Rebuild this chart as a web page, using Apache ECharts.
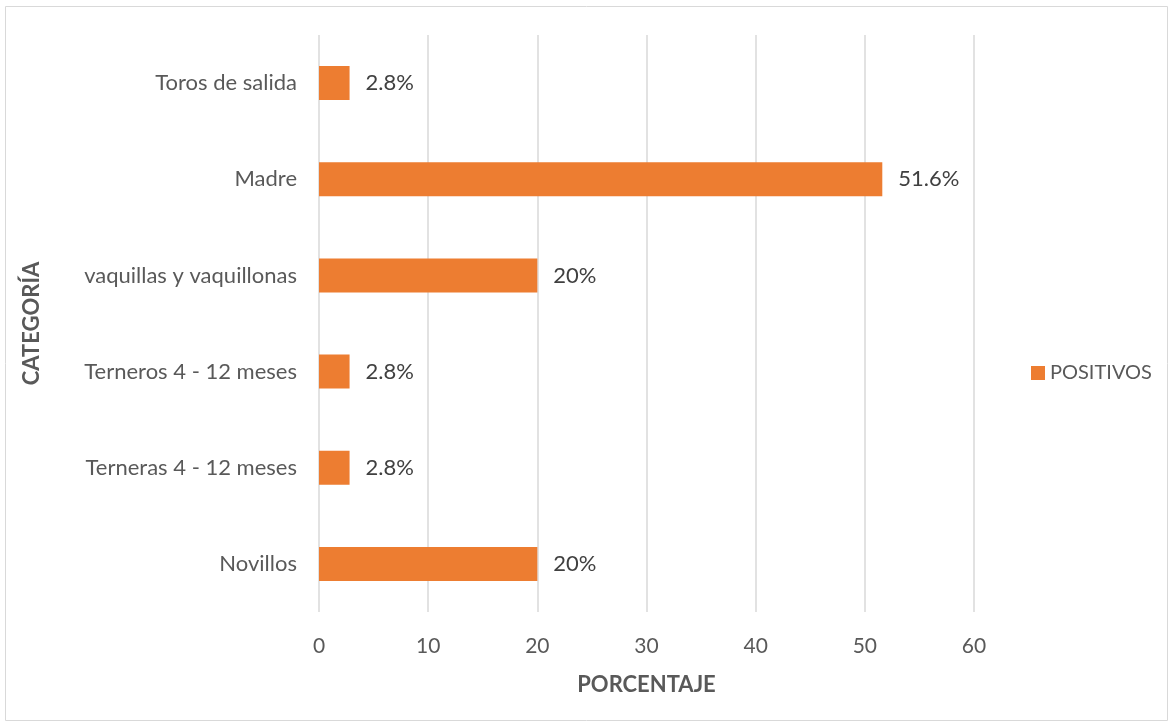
<!DOCTYPE html>
<html><head><meta charset="utf-8">
<script src="https://cdn.jsdelivr.net/npm/echarts@6/dist/echarts.min.js"></script>
<style>html,body{margin:0;padding:0;background:#fff}#c{width:1173px;height:727px}</style>
</head><body><div id="c"></div>
<script>
const categories = ["Novillos","Terneras 4 - 12 meses","Terneros 4 - 12 meses","vaquillas y vaquillonas","Madre","Toros de salida"];
const positivos = [20, 2.8, 2.8, 20, 51.6, 2.8];
const xTicks = [0,10,20,30,40,50,60];
const FONT = "Lato";
const chart = echarts.init(document.getElementById('c'));
chart.setOption({
  animation:false,
  graphic:[{type:'rect',shape:{x:5.5,y:6.5,width:1162,height:714},style:{fill:'none',stroke:'#d9d9d9',lineWidth:1}}],
  grid:{left:319,right:199,top:35,bottom:115,containLabel:false},
  legend:{data:['POSITIVOS'],orient:'vertical',left:1026,top:358,itemWidth:14,itemHeight:14,itemGap:5,icon:'rect',
    textStyle:{fontFamily:FONT,fontSize:20,color:'#595959'}},
  xAxis:{type:'value',min:0,max:60,interval:10,
    name:'PORCENTAJE',nameLocation:'middle',nameGap:62,
    nameTextStyle:{fontFamily:FONT,fontSize:22,fontWeight:'bold',color:'#595959'},
    axisLine:{show:false},axisTick:{show:false},
    axisLabel:{fontFamily:FONT,fontSize:21,color:'#595959',margin:24,formatter:v=>xTicks.includes(v)?String(v):''},
    splitLine:{show:true,lineStyle:{color:'#d9d9d9',width:1.5}}},
  yAxis:{type:'category',data:categories,
    name:'CATEGORÍA',nameLocation:'middle',nameGap:276,nameRotate:90,
    nameTextStyle:{fontFamily:FONT,fontSize:22,fontWeight:'bold',color:'#595959'},
    axisLine:{show:false},axisTick:{show:false},
    axisLabel:{fontFamily:FONT,fontSize:22,color:'#595959',margin:22}},
  series:[{name:'POSITIVOS',type:'bar',data:positivos,barWidth:34,
    itemStyle:{color:'#ed7d31'},
    label:{show:true,position:'right',distance:16,fontFamily:FONT,fontSize:22,color:'#404040',formatter:p=>p.value+'%'}}]
});
</script></body></html>
